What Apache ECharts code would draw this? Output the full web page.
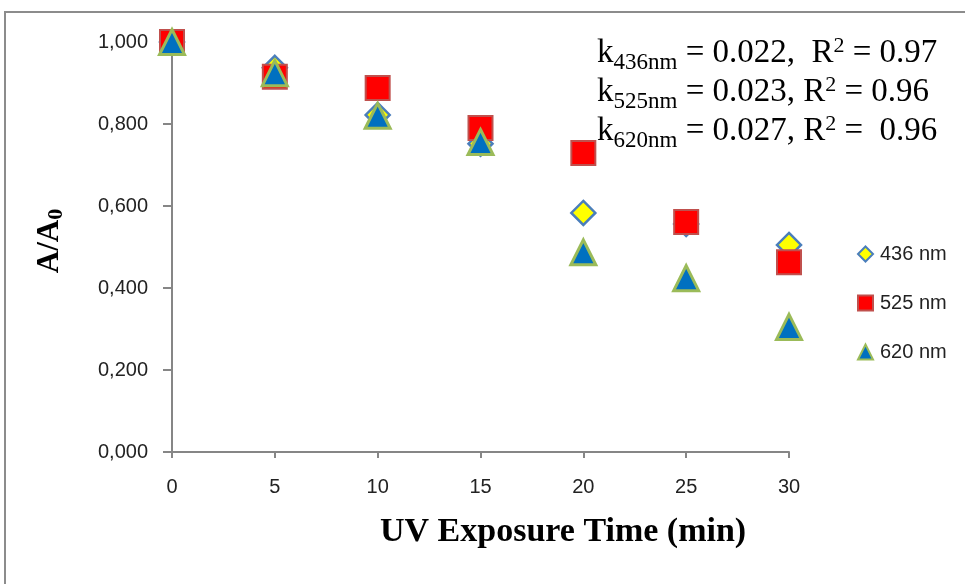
<!DOCTYPE html>
<html>
<head>
<meta charset="utf-8">
<script src="https://cdn.jsdelivr.net/npm/echarts@6/dist/echarts.min.js"></script>
<style>
  html, body { margin: 0; padding: 0; background: #fff; }
  #chart { width: 965px; height: 584px; }
</style>
</head>
<body>
<div id="chart"></div>
<script>
// Exposure times (min)
var times = [0, 5, 10, 15, 20, 25, 30];
// Relative absorbance A/A0 at each wavelength
var series436 = [1.000, 0.937, 0.822, 0.752, 0.583, 0.556, 0.505];
var series525 = [1.000, 0.915, 0.888, 0.790, 0.729, 0.561, 0.463];
var series620 = [1.000, 0.924, 0.820, 0.756, 0.487, 0.424, 0.305];
var seriesNames = ['436 nm', '525 nm', '620 nm'];
// Rate constants and fit quality per wavelength
var fitLabels = ['436nm', '525nm', '620nm'];
var fitK = ['0.022', '0.023', '0.027'];
var fitR2 = ['0.97', '0.96', '0.96'];

function pairs(ys) {
  return times.map(function (t, i) { return [t, ys[i]]; });
}

var chart = echarts.init(document.getElementById('chart'), null, { renderer: 'canvas' });

var labelFont = '"Liberation Sans", "Open Sans", sans-serif';
var serif = '"Liberation Serif", "DejaVu Serif", serif';

var fitSeps = [',  R', ', R', ', R'];
var fitEqs = [' = ', ' = ', ' =  '];
var fitText = fitLabels.map(function (lab, i) {
  return '{k|k}{sub|' + lab + '}{k| = ' + fitK[i] + fitSeps[i] + '}{sup|2}{k|' + fitEqs[i] + fitR2[i] + '}';
});

var option = {
  animation: false,
  backgroundColor: '#ffffff',
  grid: { left: 172, top: 42, width: 617, height: 410, containLabel: false },
  xAxis: {
    type: 'value',
    min: 0, max: 30, interval: 5,
    axisLine: { show: true, onZero: false, lineStyle: { color: '#868686', width: 2 } },
    axisTick: { show: true, length: 6, lineStyle: { color: '#868686', width: 2 } },
    axisLabel: { color: '#222', fontSize: 20, fontFamily: labelFont, margin: 25 },
    splitLine: { show: false }
  },
  yAxis: {
    type: 'value',
    min: 0, max: 1, interval: 0.2,
    axisLine: { show: true, lineStyle: { color: '#868686', width: 2 } },
    axisTick: { show: true, length: 9, lineStyle: { color: '#868686', width: 2 } },
    axisLabel: {
      color: '#222', fontSize: 20, fontFamily: labelFont, margin: 24,
      formatter: function (v) { return v.toFixed(3).replace('.', ','); }
    },
    splitLine: { show: false }
  },
  legend: {
    orient: 'vertical',
    left: 852, top: 239,
    itemGap: 29,
    itemWidth: 15, itemHeight: 15,
    textStyle: { color: '#222', fontSize: 20, fontFamily: labelFont, padding: [0, 0, 0, 2] },
    data: seriesNames
  },
  series: [
    {
      name: seriesNames[0], type: 'scatter', data: pairs(series436),
      symbol: 'diamond', symbolSize: 24,
      itemStyle: { color: '#FFFF00', borderColor: '#4A7EBB', borderWidth: 2.5, opacity: 1 },
      z: 2
    },
    {
      name: seriesNames[1], type: 'scatter', data: pairs(series525),
      symbol: 'rect', symbolSize: 24,
      itemStyle: { color: '#FF0000', borderColor: '#C0504D', borderWidth: 2, opacity: 1 },
      z: 3
    },
    {
      name: seriesNames[2], type: 'scatter', data: pairs(series620),
      symbol: 'triangle', symbolSize: [25, 25],
      itemStyle: { color: '#0070C0', borderColor: '#9BBB59', borderWidth: 3, opacity: 1 },
      z: 4
    }
  ],
  graphic: [
    {
      type: 'rect', silent: true, z: -1,
      shape: { x: 5, y: 12, width: 980, height: 600 },
      style: { fill: 'none', stroke: '#8c8c8c', lineWidth: 2 }
    },
    {
      type: 'text', left: 380, top: 515,
      style: {
        text: 'UV Exposure Time (min)',
        font: 'bold 34px ' + serif, fill: '#000'
      }
    },
    {
      type: 'text', x: 50, y: 241, rotation: Math.PI / 2,
      style: {
        text: '{a|A/A}{s|0}',
        align: 'center', verticalAlign: 'middle',
        rich: {
          a: { font: 'bold 31px ' + serif, fill: '#000' },
          s: { font: 'bold 22px ' + serif, fill: '#000', padding: [12, 0, 0, 0] }
        }
      }
    }
  ].concat(fitText.map(function (t, i) {
    return {
      type: 'text', left: 597, top: 33 + i * 39,
      style: {
        text: t,
        rich: {
          k: { font: '33px ' + serif, fill: '#000', lineHeight: 38 },
          sub: { font: '23px ' + serif, fill: '#000', padding: [18, 0, 0, 0], lineHeight: 38 },
          sup: { font: '22px ' + serif, fill: '#000', padding: [0, 0, 15, 0], lineHeight: 38 }
        }
      }
    };
  }))
};

chart.setOption(option);
</script>
</body>
</html>
